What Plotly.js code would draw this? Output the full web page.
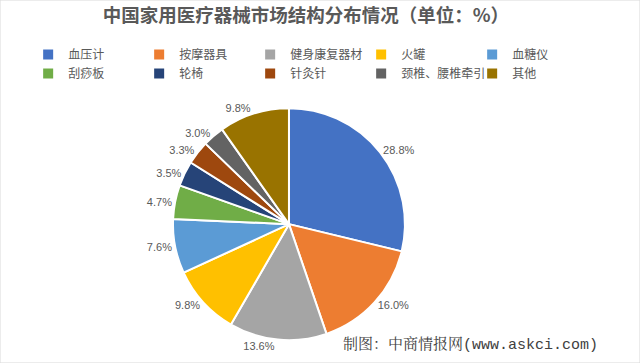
<!DOCTYPE html>
<html><head><meta charset="utf-8">
<script src="https://cdn.plot.ly/plotly-3.0.1.min.js"></script>
<style>html,body{margin:0;padding:0;background:#fff}#c{width:640px;height:363px}</style>
</head><body><div id="c"></div>
<script>
const categories = ['血压计','按摩器具','健身康复器材','火罐','血糖仪','刮痧板','轮椅','针灸针','颈椎、腰椎牵引','其他'];
const shares = [28.8,16.0,13.6,9.8,7.6,4.7,3.5,3.3,3.0,9.8];
const colors = ['#4472C4','#ED7D31','#A5A5A5','#FFC000','#5B9BD5','#70AD47','#264478','#9E480E','#636363','#997300'];
const titleText = '中国家用医疗器械市场结构分布情况（单位：%）';
const sourceCn = '制图：中商情报网';
const sourceUrl = '(www.askci.com)';

const data = [{
  type:'pie', labels:categories, values:shares, sort:false, direction:'clockwise', rotation:0,
  marker:{colors:colors, line:{color:'#fff', width:2}},
  textposition:'outside', texttemplate:'%{value:.1f}%',
  textfont:{size:11, color:'#595959', family:'Liberation Sans, Arial, sans-serif'},
  domain:{x:[0.27,0.633], y:[0.063,0.702]},
  hoverinfo:'none', automargin:false
}];
const layout = {
  width:640, height:363, margin:{l:0,r:0,t:0,b:0},
  paper_bgcolor:'#fff',
  font:{family:'Noto Sans CJK SC, sans-serif', color:'#595959'},
  title:{text:'<b>'+titleText+'</b>', x:0.478, xanchor:'center', y:0.958, yanchor:'middle',
    font:{size:18.5, color:'#595959', family:'Noto Sans CJK SC, sans-serif'}},
  showlegend:true,
  legend:{orientation:'h', x:0.044, y:0.89, xanchor:'left', yanchor:'top',
    entrywidth:66, entrywidthmode:'pixels', traceorder:'normal',
    font:{size:12, color:'#595959'}, itemwidth:30, tracegroupgap:0},
  shapes:[{type:'rect', xref:'paper', yref:'paper', x0:0, x1:1, y0:0, y1:1, line:{color:'#D9D9D9', width:1}}],
  annotations:[{text:sourceCn+'<span style="font-family:Liberation Mono, monospace">'+sourceUrl+'</span>',
    xref:'paper', yref:'paper', x:0.937, y:0.055, xanchor:'right', yanchor:'middle',
    showarrow:false, font:{size:15, color:'#404040', family:'Noto Serif CJK SC, Noto Sans CJK SC, serif'}}]
};
Plotly.newPlot('c', data, layout, {staticPlot:true, displayModeBar:false});
</script></body></html>
